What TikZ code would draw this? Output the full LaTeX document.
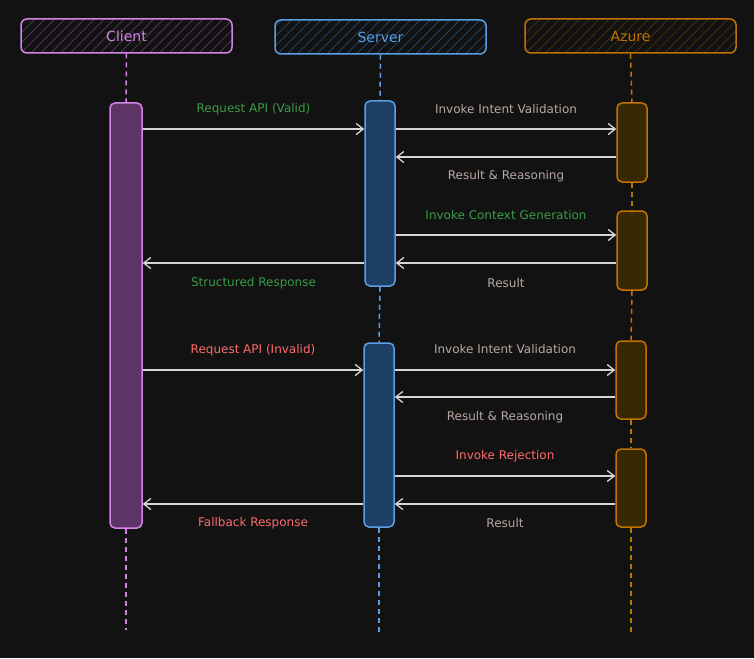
\documentclass[tikz,border=0pt]{standalone}
\usepackage{fontspec}
\setmainfont{DejaVu Sans}
\usetikzlibrary{arrows.meta,patterns.meta}

\definecolor{bgdark}{HTML}{121212}
\definecolor{clientline}{HTML}{D684E8}
\definecolor{clientfill}{HTML}{5E3466}
\definecolor{clienthatch}{HTML}{5C3A64}
\definecolor{serverline}{HTML}{5A9FE6}
\definecolor{serverfill}{HTML}{1C3F63}
\definecolor{serverhatch}{HTML}{1F4B75}
\definecolor{azureline}{HTML}{C27200}
\definecolor{azurefill}{HTML}{382905}
\definecolor{azurehatch}{HTML}{4A3504}
\definecolor{msgline}{HTML}{D6D6D6}
\definecolor{okgreen}{HTML}{3B9B47}
\definecolor{badred}{HTML}{FF6B6B}
\definecolor{neutral}{HTML}{B8A9A2}

\tikzset{
  head/.style={draw=#1line, line width=1.5pt, rounded corners=6pt,
    pattern={Lines[angle=45,distance=7pt,line width=0.7pt]}, pattern color=#1hatch,
    text=#1line, font=\fontsize{14}{16}\selectfont,
    minimum width=211pt, minimum height=34pt, inner sep=0pt},
  bar/.style={draw=#1line, fill=#1fill, line width=1.5pt, rounded corners=5pt,
    minimum width=30pt, inner sep=0pt},
  life/.style={draw=#1line, line width=1.5pt, dash pattern=on 5pt off 4pt},
  msg/.style={draw=msgline, line width=1.5pt, -{Straight Barb[length=7pt,width=11pt,line width=1.3pt]}},
  lbl/.style={font=\fontsize{12}{14}\selectfont, text=#1, inner sep=0pt},
}

\begin{document}
\begin{tikzpicture}[x=1pt, y=-1pt]
  \fill[bgdark] (0,0) rectangle (754,658);
  \useasboundingbox (0,0) rectangle (754,658);

  % participants
  \node[head=client] (client) at (126.5,36) {Client};
  \node[head=server] (server) at (380.5,37) {Server};
  \node[head=azure] (azure) at (630.5,36) {Azure};

  % activation bars
  \node[bar=client, minimum width=32pt, minimum height=425pt] (cbar) at (126,315.5) {};
  \node[bar=server, minimum height=185pt] (sbarA) at (380,193.5) {};
  \node[bar=server, minimum height=184pt] (sbarB) at (379,435) {};
  \node[bar=azure, minimum height=79pt] (abarA) at (632,142.5) {};
  \node[bar=azure, minimum height=79pt] (abarB) at (632,250.5) {};
  \node[bar=azure, minimum height=78pt] (abarC) at (631,380) {};
  \node[bar=azure, minimum height=78pt] (abarD) at (631,488) {};

  \coordinate (cend) at (126,630);
  \coordinate (send) at (379,633);
  \coordinate (aend) at (631,632);

  % lifelines
  \draw[life=client] (client.south) -- (cbar.north);
  \draw[life=client] (cbar.south) -- (cend);
  \draw[life=server] (server.south) -- (sbarA.north);
  \draw[life=server] (sbarA.south) -- (sbarB.north);
  \draw[life=server] (sbarB.south) -- (send);
  \draw[life=azure] (azure.south) -- (abarA.north);
  \draw[life=azure] (abarA.south) -- (abarB.north);
  \draw[life=azure] (abarB.south) -- (abarC.north);
  \draw[life=azure] (abarC.south) -- (abarD.north);
  \draw[life=azure] (abarD.south) -- (aend);

  % valid request
  \draw[msg] (cbar.east |- 0,129) -- (sbarA.west |- 0,129)
    node[midway, yshift=20pt, lbl=okgreen] {Request API (Valid)};
  \draw[msg] (sbarA.east |- 0,129) -- (abarA.west |- 0,129)
    node[midway, yshift=20pt, lbl=neutral] {Invoke Intent Validation};
  \draw[msg] (abarA.west |- 0,157) -- (sbarA.east |- 0,157)
    node[midway, yshift=-19pt, lbl=neutral] {Result \& Reasoning};
  \draw[msg] (sbarA.east |- 0,235) -- (abarB.west |- 0,235)
    node[midway, yshift=20pt, lbl=okgreen] {Invoke Context Generation};
  \draw[msg] (abarB.west |- 0,263) -- (sbarA.east |- 0,263)
    node[midway, yshift=-20pt, lbl=neutral] {Result};
  \draw[msg] (sbarA.west |- 0,263) -- (cbar.east |- 0,263)
    node[midway, yshift=-20pt, lbl=okgreen] {Structured Response};

  % invalid request
  \draw[msg] (cbar.east |- 0,370) -- (sbarB.west |- 0,370)
    node[midway, yshift=20pt, lbl=badred] {Request API (Invalid)};
  \draw[msg] (sbarB.east |- 0,370) -- (abarC.west |- 0,370)
    node[midway, yshift=21pt, lbl=neutral] {Invoke Intent Validation};
  \draw[msg] (abarC.west |- 0,397) -- (sbarB.east |- 0,397)
    node[midway, yshift=-20pt, lbl=neutral] {Result \& Reasoning};
  \draw[msg] (sbarB.east |- 0,476) -- (abarD.west |- 0,476)
    node[midway, yshift=20pt, lbl=badred] {Invoke Rejection};
  \draw[msg] (abarD.west |- 0,504) -- (sbarB.east |- 0,504)
    node[midway, yshift=-19pt, lbl=neutral] {Result};
  \draw[msg] (sbarB.west |- 0,504) -- (cbar.east |- 0,504)
    node[midway, yshift=-19pt, lbl=badred] {Fallback Response};
\end{tikzpicture}
\end{document}
